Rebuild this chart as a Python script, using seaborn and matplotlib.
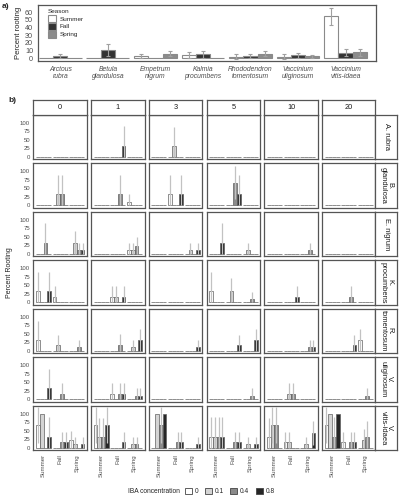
import numpy as np
import pandas as pd
import matplotlib
matplotlib.use('Agg')
import matplotlib.pyplot as plt
import seaborn as sns
from matplotlib.patches import Patch

# ---- panel a data ----
species_a = ['Arctous\nrubra', 'Betula\nglandulosa', 'Empetrum\nnigrum', 'Kalmia\nprocumbens',
             'Rhododendron\ntomentosum', 'Vaccinium\nuliginosum', 'Vaccinium\nvitis-idaea']
seasons = ['Summer', 'Fall', 'Spring']
summer_mean = [0, 0, 3, 4, 2, 2, 55]
fall_mean = [3, 11, 0, 5, 3, 4, 7]
spring_mean = [0, 1, 6, 1, 6, 2.5, 8]
summer_se = [0, 0, 3, 4, 3, 3, 11]
fall_se = [3, 7.5, 0, 4, 2, 3.5, 4.5]
spring_se = [0, 0, 3, 0, 3, 1.5, 4.5]

# ---- panel b data ----
weeks = [0, 1, 3, 5, 10, 20]
iba_levels = ['0', '0.1', '0.4', '0.8']
species_b = ['A. rubra', 'B.\nglandulosa', 'E. nigrum', 'K.\nprocumbens',
             'R.\ntomentosum', 'V.\nuliginosum', 'V.\nvitis-idaea']

# (column, season, IBA, mean, top of error bar) -- everything else is 0
a_rubra = [
    (1, 'Fall', '0.8', 33, 90),
    (3, 'Fall', '0.1', 33, 88),
]
b_glandulosa = [
    (0, 'Fall', '0.1', 33, 88), (0, 'Fall', '0.4', 33, 88),
    (1, 'Fall', '0.4', 33, 88), (1, 'Spring', '0', 11, 33),
    (3, 'Fall', '0', 33, 88), (3, 'Fall', '0.8', 33, 88),
    (5, 'Fall', '0.4', 67, 115), (5, 'Fall', '0.8', 33, 88),
]
e_nigrum = [
    (0, 'Summer', '0.4', 33, 90), (0, 'Spring', '0.1', 33, 67),
    (0, 'Spring', '0.4', 11, 33), (0, 'Spring', '0.8', 11, 33),
    (1, 'Spring', '0', 11, 33), (1, 'Spring', '0.1', 11, 33), (1, 'Spring', '0.4', 22, 50),
    (3, 'Spring', '0.1', 11, 33), (3, 'Spring', '0.8', 11, 33),
    (5, 'Summer', '0.8', 33, 90), (5, 'Spring', '0.1', 11, 33),
    (10, 'Spring', '0.4', 11, 33),
]
k_procumbens = [
    (0, 'Summer', '0', 33, 88), (0, 'Summer', '0.8', 33, 88), (0, 'Fall', '0', 17, 48),
    (1, 'Fall', '0', 17, 48), (1, 'Fall', '0.1', 17, 48), (1, 'Fall', '0.8', 17, 48),
    (5, 'Summer', '0', 33, 88), (5, 'Fall', '0.1', 33, 72), (5, 'Spring', '0.4', 11, 30),
    (10, 'Fall', '0.8', 17, 48),
    (20, 'Fall', '0.4', 17, 48),
]
r_tomentosum = [
    (0, 'Summer', '0', 33, 87), (0, 'Fall', '0.1', 17, 47), (0, 'Spring', '0.4', 11, 32),
    (1, 'Fall', '0.4', 17, 50), (1, 'Spring', '0.1', 11, 33), (1, 'Spring', '0.8', 33, 65),
    (3, 'Spring', '0.8', 11, 33),
    (5, 'Fall', '0.8', 17, 48), (5, 'Spring', '0.8', 33, 65),
    (10, 'Spring', '0.4', 11, 33), (10, 'Spring', '0.8', 11, 33),
    (20, 'Fall', '0.8', 17, 48), (20, 'Spring', '0', 33, 65),
]
v_uliginosum = [
    (0, 'Summer', '0.8', 33, 90), (0, 'Fall', '0.4', 17, 49),
    (1, 'Fall', '0', 17, 48), (1, 'Fall', '0.4', 17, 48), (1, 'Fall', '0.8', 17, 48),
    (1, 'Spring', '0.4', 11, 33), (1, 'Spring', '0.8', 11, 33),
    (5, 'Spring', '0.4', 11, 33),
    (10, 'Fall', '0.1', 17, 48), (10, 'Fall', '0.4', 17, 48),
    (20, 'Spring', '0.4', 11, 33),
]
v_vitis_idaea = [
    (0, 'Summer', '0', 67, 120), (0, 'Summer', '0.1', 100, 100), (0, 'Summer', '0.8', 33, 90),
    (0, 'Fall', '0.4', 17, 48), (0, 'Fall', '0.8', 17, 48),
    (0, 'Spring', '0', 22, 50), (0, 'Spring', '0.1', 11, 33), (0, 'Spring', '0.8', 11, 33),
    (1, 'Summer', '0', 67, 120), (1, 'Summer', '0.1', 33, 88), (1, 'Summer', '0.4', 33, 88),
    (1, 'Summer', '0.8', 67, 120), (1, 'Fall', '0.8', 17, 48),
    (1, 'Spring', '0.1', 11, 33), (1, 'Spring', '0.4', 11, 33),
    (3, 'Summer', '0.1', 100, 100), (3, 'Summer', '0.4', 67, 120), (3, 'Summer', '0.8', 100, 100),
    (3, 'Fall', '0.4', 17, 48), (3, 'Fall', '0.8', 17, 48), (3, 'Spring', '0.8', 11, 33),
    (5, 'Summer', '0', 33, 90), (5, 'Summer', '0.1', 33, 90), (5, 'Summer', '0.4', 33, 90),
    (5, 'Summer', '0.8', 33, 90), (5, 'Fall', '0.4', 17, 48), (5, 'Fall', '0.8', 17, 48),
    (5, 'Spring', '0.1', 11, 33), (5, 'Spring', '0.8', 11, 33),
    (10, 'Summer', '0', 33, 88), (10, 'Summer', '0.1', 67, 120), (10, 'Summer', '0.4', 67, 120),
    (10, 'Fall', '0', 17, 48), (10, 'Fall', '0.1', 17, 48),
    (10, 'Spring', '0.1', 11, 33), (10, 'Spring', '0.8', 44, 78),
    (20, 'Summer', '0', 67, 120), (20, 'Summer', '0.1', 100, 100), (20, 'Summer', '0.4', 33, 90),
    (20, 'Summer', '0.8', 100, 100), (20, 'Fall', '0', 17, 48), (20, 'Fall', '0.4', 17, 48),
    (20, 'Fall', '0.8', 17, 48), (20, 'Spring', '0.1', 22, 55), (20, 'Spring', '0.4', 33, 78),
]

season_colors = {'Summer': 'white', 'Fall': '#333333', 'Spring': '#8c8c8c'}
iba_colors = {'0': 'white', '0.1': '#d4d4d4', '0.4': '#8a8a8a', '0.8': '#262626'}

sns.set_theme(style='white')
plt.rcParams['font.family'] = ['Liberation Sans', 'DejaVu Sans']

W, H = 402, 500
fig = plt.figure(figsize=(W / 100, H / 100), dpi=100)


def box(x0, y0, x1, y1):
    # pixel box (top-left origin) -> figure fraction
    return [x0 / W, 1 - y1 / H, (x1 - x0) / W, (y1 - y0) / H]


frame_col = '#555555'
tick_col = '#4d4d4d'

# ---------------- panel a ----------------
df_a = pd.DataFrame({
    'species': species_a * 3,
    'season': np.repeat(seasons, len(species_a)),
    'rooting': summer_mean + fall_mean + spring_mean,
    'se': summer_se + fall_se + spring_se,
})
ax_a = fig.add_axes(box(38, 5, 376, 61))
sns.barplot(data=df_a, x='species', y='rooting', hue='season', order=species_a,
            hue_order=seasons, palette=season_colors, saturation=1, width=0.9,
            errorbar=None, edgecolor='#8a8a8a', linewidth=0.8, legend=False, ax=ax_a)
for bar in list(ax_a.patches):
    xc = bar.get_x() + bar.get_width() / 2
    i = int(round(xc))
    j = int(round((xc - i + 0.3) / 0.3))
    r = df_a[(df_a.species == species_a[i]) & (df_a.season == seasons[j])].iloc[0]
    if r.se > 0:
        ax_a.errorbar(xc, r.rooting, yerr=r.se, fmt='none', ecolor='#a0a0a0',
                      elinewidth=0.8, capsize=1.6, capthick=0.8, zorder=5)
ax_a.set_xlim(-0.47, 6.64)
ax_a.set_ylim(-3.5, 69.5)
ax_a.set_yticks(range(0, 61, 10))
ax_a.set_xlabel('')
ax_a.set_ylabel('Percent rooting', fontsize=5.5, color='#222222', labelpad=2)
ax_a.tick_params(axis='y', labelsize=5.2, colors=tick_col, length=2, width=0.5, pad=1.5)
ax_a.tick_params(axis='x', labelsize=4.9, colors=tick_col, length=2, width=0.5, pad=1.5)
for lab in ax_a.get_xticklabels():
    lab.set_fontstyle('italic')
    lab.set_linespacing(1.0)
for sp in ax_a.spines.values():
    sp.set_color(frame_col)
    sp.set_linewidth(0.9)
handles_a = [Patch(facecolor=season_colors[s], edgecolor='#8a8a8a', linewidth=0.8) for s in seasons]
leg_a = ax_a.legend(handles_a, seasons, title='Season', loc='upper left',
                    bbox_to_anchor=(0.03, 0.93), frameon=False, fontsize=4.6,
                    title_fontsize=4.6, handlelength=1.3, handleheight=1.3,
                    labelspacing=0.15, handletextpad=0.55, borderpad=0,
                    borderaxespad=0, alignment='left')
fig.text(2 / W, 1 - 7 / H, 'a)', fontsize=6, fontweight='bold', va='center')

# ---------------- panel b ----------------
rows = []
for sp, entries in zip(species_b, [a_rubra, b_glandulosa, e_nigrum, k_procumbens,
                                   r_tomentosum, v_uliginosum, v_vitis_idaea]):
    lookup = {(w, s, c): (m, t) for w, s, c, m, t in entries}
    for w in weeks:
        for s in seasons:
            for c in iba_levels:
                m, t = lookup.get((w, s, c), (0, 0))
                rows.append({'species': sp, 'week': w, 'season': s, 'iba': c,
                             'rooting': m, 'upper': t})
df_b = pd.DataFrame(rows)

left0, step_x, pw = 33.5, 57.7, 53.5
top0, step_y, ph = 114.5, 48.5, 44.5

for ri, sp in enumerate(species_b):
    for ci, w in enumerate(weeks):
        x0 = left0 + ci * step_x
        y0 = top0 + ri * step_y
        ax = fig.add_axes(box(x0, y0, x0 + pw, y0 + ph))
        sub = df_b[(df_b.species == sp) & (df_b.week == w)]
        sns.barplot(data=sub, x='season', y='rooting', hue='iba', order=seasons,
                    hue_order=iba_levels, palette=iba_colors, saturation=1, width=0.9,
                    errorbar=None, edgecolor='#606060', linewidth=0.5, legend=False, ax=ax)
        for bar in list(ax.patches):
            xc = bar.get_x() + bar.get_width() / 2
            i = int(round(xc))
            j = int(round((xc - i + 0.3375) / 0.225))
            r = sub[(sub.season == seasons[i]) & (sub.iba == iba_levels[j])].iloc[0]
            if r.upper > r.rooting:
                ax.vlines(xc, max(0, 2 * r.rooting - r.upper), r.upper,
                          color='#c2c2c2', linewidth=0.9, zorder=5)
        ax.set_xlim(-0.6, 2.6)
        ax.set_ylim(-6, 124)
        ax.set_yticks([0, 25, 50, 75, 100])
        ax.set_xlabel('')
        ax.set_ylabel('')
        for s_ in ax.spines.values():
            s_.set_color(frame_col)
            s_.set_linewidth(0.9)
        if ci == 0:
            ax.tick_params(axis='y', labelsize=4.3, colors=tick_col, length=1.5,
                           width=0.5, pad=1)
        else:
            ax.tick_params(axis='y', labelleft=False, length=0)
        if ri == len(species_b) - 1:
            ax.tick_params(axis='x', labelsize=4.4, colors=tick_col, length=1.5,
                           width=0.5, pad=1.5)
            for lab in ax.get_xticklabels():
                lab.set_rotation(90)
                lab.set_ha('center')
                lab.set_va('top')
        else:
            ax.tick_params(axis='x', labelbottom=False, length=0)

        if ri == 0:
            st = fig.add_axes(box(x0, 100, x0 + pw, top0))
            st.set_xticks([])
            st.set_yticks([])
            for s_ in st.spines.values():
                s_.set_color(frame_col)
                s_.set_linewidth(0.9)
            st.text(0.5, 0.5, str(w), ha='center', va='center', fontsize=5.3,
                    color='#1a1a1a', transform=st.transAxes)
        if ci == len(weeks) - 1:
            rs = fig.add_axes(box(x0 + pw, y0, 397, y0 + ph))
            rs.set_xticks([])
            rs.set_yticks([])
            for s_ in rs.spines.values():
                s_.set_color(frame_col)
                s_.set_linewidth(0.9)
            rs.text(0.5, 0.5, sp, ha='center', va='center', fontsize=5.4,
                    rotation=270, linespacing=0.9, color='#1a1a1a',
                    transform=rs.transAxes)

fig.text(8 / W, 1 - 100 / H, 'b)', fontsize=6, fontweight='bold', va='center')
fig.text(9.5 / W, 1 - 273 / H, 'Percent Rooting', fontsize=5, rotation=90,
         ha='center', va='center', color='#222222')

# bottom legend
fig.text(128 / W, 1 - 491.5 / H, 'IBA concentration', fontsize=4.8, ha='left',
         va='center', color='#222222')
handles_b = [Patch(facecolor=iba_colors[c], edgecolor='#444444', linewidth=0.6) for c in iba_levels]
fig.legend(handles_b, iba_levels, ncol=4, loc='center left',
           bbox_to_anchor=(185 / W, 1 - 491.5 / H), frameon=False, fontsize=4.8,
           handlelength=1.05, handleheight=1.05, handletextpad=0.4,
           columnspacing=1.0, borderpad=0, borderaxespad=0)

fig.savefig('out.png', dpi=100)
